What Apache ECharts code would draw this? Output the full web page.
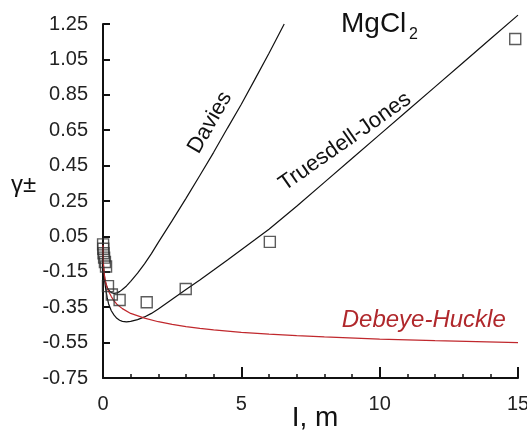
<!DOCTYPE html>
<html>
<head>
<meta charset="utf-8">
<script src="https://cdn.jsdelivr.net/npm/echarts@6/dist/echarts.min.js"></script>
<style>
html,body{margin:0;padding:0;background:#fff;}
#c{width:527px;height:432px;}
</style>
</head>
<body>
<div id="c"></div>
<script>
// ---- data ----
const xTicks = [0, 5, 10, 15];
const yTicks = [-0.75, -0.55, -0.35, -0.15, 0.05, 0.25, 0.45, 0.65, 0.85, 1.05, 1.25];

const daviesX = [0, 0.005, 0.01, 0.02, 0.04, 0.07, 0.1, 0.15, 0.2, 0.3, 0.4, 0.5, 0.6, 0.7, 0.85, 1.0, 1.25, 1.5, 1.75, 2.0, 2.5, 3.0, 3.5, 4.0, 4.5, 5.0, 5.5, 6.0, 6.25, 6.55];
const daviesY = [0, -0.065, -0.09, -0.12, -0.16, -0.195, -0.214, -0.238, -0.253, -0.268, -0.272, -0.269, -0.262, -0.25, -0.23, -0.204, -0.158, -0.105, -0.047, 0.016, 0.139, 0.265, 0.394, 0.525, 0.662, 0.797, 0.94, 1.085, 1.16, 1.25];

const tjX = [0, 0.005, 0.01, 0.02, 0.04, 0.07, 0.1, 0.15, 0.2, 0.3, 0.4, 0.5, 0.6, 0.7, 0.85, 1.0, 1.25, 1.5, 1.75, 2.0, 2.5, 3.0, 3.5, 4.0, 4.5, 5.0, 5.5, 6.0, 6.5, 7.0, 8.0, 9.0, 10, 11, 12, 13, 14, 15];
const tjY = [0, -0.07, -0.1, -0.14, -0.17, -0.215, -0.25, -0.295, -0.33, -0.37, -0.395, -0.413, -0.424, -0.43, -0.433, -0.43, -0.42, -0.405, -0.385, -0.36, -0.305, -0.25, -0.196, -0.14, -0.083, -0.025, 0.032, 0.09, 0.155, 0.22, 0.355, 0.49, 0.625, 0.76, 0.895, 1.03, 1.165, 1.30];

const dhX = [0, 0.005, 0.01, 0.02, 0.04, 0.07, 0.1, 0.15, 0.2, 0.3, 0.4, 0.5, 0.7, 1.0, 1.5, 2.0, 2.5, 3.0, 3.5, 4.0, 5.0, 6.0, 7.0, 8.0, 10, 12, 15];
const dhY = [0, -0.06, -0.085, -0.115, -0.155, -0.19, -0.21, -0.24, -0.26, -0.29, -0.315, -0.333, -0.358, -0.385, -0.412, -0.432, -0.447, -0.46, -0.47, -0.478, -0.492, -0.502, -0.511, -0.518, -0.53, -0.539, -0.55];

const expX = [0.003, 0.01, 0.02, 0.04, 0.07, 0.11, 0.18, 0.32, 0.6, 1.58, 2.99, 6.03, 14.9];
const expY = [0.005, -0.02, -0.045, -0.07, -0.095, -0.12, -0.231, -0.278, -0.309, -0.322, -0.247, 0.019, 1.165];

const zip = (xs, ys) => xs.map((x, i) => [x, ys[i]]);
const FONT = '"Liberation Sans", Arial, sans-serif';

const chart = echarts.init(document.getElementById('c'), null, {renderer: 'canvas'});
chart.setOption({
  animation: false,
  backgroundColor: '#fff',
  grid: {left: 103, right: 9, top: 24, bottom: 54, containLabel: false, outerBoundsMode: 'none'},
  xAxis: {
    type: 'value', min: 0, max: 15, interval: 5,
    axisLine: {onZero: false, lineStyle: {color: '#111', width: 2}},
    axisTick: {inside: true, length: 11, lineStyle: {color: '#111', width: 2}},
    minorTick: {show: true, splitNumber: 5, length: 4, lineStyle: {color: '#111', width: 1.5}},
    splitLine: {show: false},
    axisLabel: {margin: 16, fontSize: 20, color: '#222', fontFamily: FONT,
      formatter: v => xTicks.includes(v) ? String(v) : ''}
  },
  yAxis: {
    type: 'value', min: -0.75, max: 1.25, interval: 0.2,
    axisLine: {onZero: false, lineStyle: {color: '#111', width: 2}},
    axisTick: {inside: true, length: 7, lineStyle: {color: '#111', width: 2}},
    splitLine: {show: false},
    axisLabel: {margin: 15, fontSize: 20, color: '#222', fontFamily: FONT,
      formatter: v => {
        const t = yTicks.find(k => Math.abs(k - v) < 1e-6);
        return t === undefined ? '' : t.toFixed(2);
      }}
  },
  series: [
    {type: 'line', data: zip(daviesX, daviesY), showSymbol: false, smooth: false, clip: false,
      lineStyle: {color: '#111', width: 1.2}},
    {type: 'line', data: zip(tjX, tjY), showSymbol: false, smooth: false, clip: false,
      lineStyle: {color: '#111', width: 1.2}},
    {type: 'line', data: zip(dhX, dhY), showSymbol: false, smooth: false, clip: false,
      lineStyle: {color: '#c0282d', width: 1.2}},
    {type: 'scatter', data: zip(expX, expY), symbol: 'rect', symbolSize: 11, clip: false, z: 5,
      itemStyle: {color: 'rgba(255,255,255,0)', borderColor: '#333', borderWidth: 1.4}}
  ],
  graphic: [
    {type: 'text', x: 341, y: 24.2, style: {text: 'MgCl', font: '28px ' + FONT, fill: '#111', textAlign: 'left', textVerticalAlign: 'middle'}},
    {type: 'text', x: 409, y: 34.5, style: {text: '2', font: '16px ' + FONT, fill: '#111', textAlign: 'left', textVerticalAlign: 'middle'}},
    {type: 'text', x: 210, y: 122.5, rotation: 60 * Math.PI / 180, style: {text: 'Davies', font: '22px ' + FONT, fill: '#111', textAlign: 'center', textVerticalAlign: 'middle'}},
    {type: 'text', x: 345, y: 141.7, rotation: 35 * Math.PI / 180, style: {text: 'Truesdell-Jones', font: '22px ' + FONT, fill: '#111', textAlign: 'center', textVerticalAlign: 'middle'}},
    {type: 'text', x: 341.7, y: 320.5, style: {text: 'Debeye-Huckle', font: 'italic 24px ' + FONT, fill: '#b0282c', textAlign: 'left', textVerticalAlign: 'middle'}},
    {type: 'text', x: 23.5, y: 185, style: {text: 'γ±', font: '24px ' + FONT, fill: '#111', textAlign: 'center', textVerticalAlign: 'middle'}},
    {type: 'text', x: 315, y: 418, style: {text: 'I, m', font: '28px ' + FONT, fill: '#111', textAlign: 'center', textVerticalAlign: 'middle'}}
  ]
});
</script>
</body>
</html>
